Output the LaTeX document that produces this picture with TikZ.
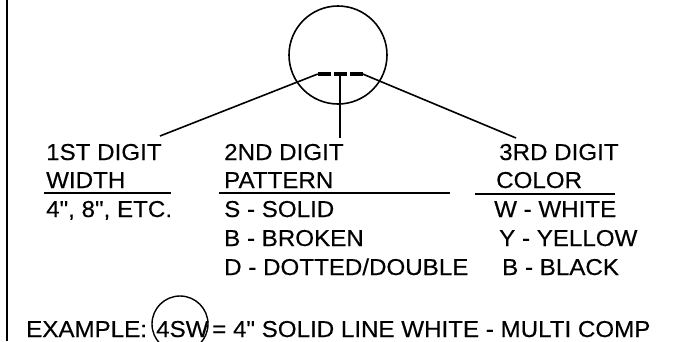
\documentclass[tikz,border=0pt]{standalone}
\usepackage{fontspec}
\setmainfont{Liberation Sans}[Ligatures=TeXOff,FakeStretch=1.05,FakeBold=0.3]
\begin{document}
\begin{tikzpicture}[x=1pt,y=-1pt,
  lbl/.style={anchor=base west,inner sep=0pt,font=\fontsize{23}{27}\selectfont},
  rule/.style={line width=1.7pt},
  conn/.style={line width=1.6pt},
  dashbar/.style={fill=black,draw=none,minimum width=13pt,minimum height=4pt,inner sep=0pt}]
\useasboundingbox (0,0) rectangle (684,341);
\fill[white] (0,0) rectangle (684,341);
% left border
\draw[line width=2pt] (6.5,0) -- (6.5,341);
% detail circle
\node[draw,circle,line width=1.6pt,minimum size=98pt,inner sep=0pt] (big) at (338,55) {};
\node[dashbar] (d1) at (324.5,74) {};
\node[dashbar] (d2) at (340,74) {};
\node[dashbar] (d3) at (356,74) {};
% labels column 1
\node[lbl] (c1a) at (46,160) {1ST DIGIT};
\node[lbl] (c1b) at (46,188) {WIDTH};
\node[lbl] (c1c) at (46,217) {4", 8", ETC.};
% column 2
\node[lbl] (c2a) at (224,160) {2ND DIGIT};
\node[lbl] (c2b) at (224,188) {PATTERN};
\node[lbl] (c2c) at (224,217) {S - SOLID};
\node[lbl] (c2d) at (224,246) {B - BROKEN};
\node[lbl] (c2e) at (224,275) {D - DOTTED/DOUBLE};
% column 3
\node[lbl] (c3a) at (499,160) {3RD DIGIT};
\node[lbl] (c3b) at (496,188) {COLOR};
\node[lbl] (c3c) at (494,217) {W - WHITE};
\node[lbl] (c3d) at (499,246) {Y - YELLOW};
\node[lbl] (c3e) at (502,275) {B - BLACK};
% underlines
\coordinate (u1a) at (44,193); \coordinate (u1b) at (171,193);
\coordinate (u2a) at (219,193); \coordinate (u2b) at (450,193);
\coordinate (u3a) at (475,194); \coordinate (u3b) at (615,194);
\draw[rule] (u1a) -- (u1b);
\draw[rule] (u2a) -- (u2b);
\draw[rule] (u3a) -- (u3b);
% leader lines
\coordinate (e1) at (160,136);
\coordinate (e2) at (340,138);
\coordinate (e3) at (516,138);
\draw[conn] (d1.west) -- (e1);
\draw[conn] (d2.south) -- (e2);
\draw[conn] (d3.east) -- (e3);
% example
\node[lbl] (exa) at (26,337) {EXAMPLE:};
\node[lbl] (exb) at (156,337) {4SW};
\node[draw,circle,line width=1.4pt,minimum size=56pt,inner sep=0pt] (exc) at (180,324) {};
\node[lbl] (exd) at (212,337) {= 4" SOLID LINE WHITE - MULTI COMP};
\end{tikzpicture}
\end{document}
